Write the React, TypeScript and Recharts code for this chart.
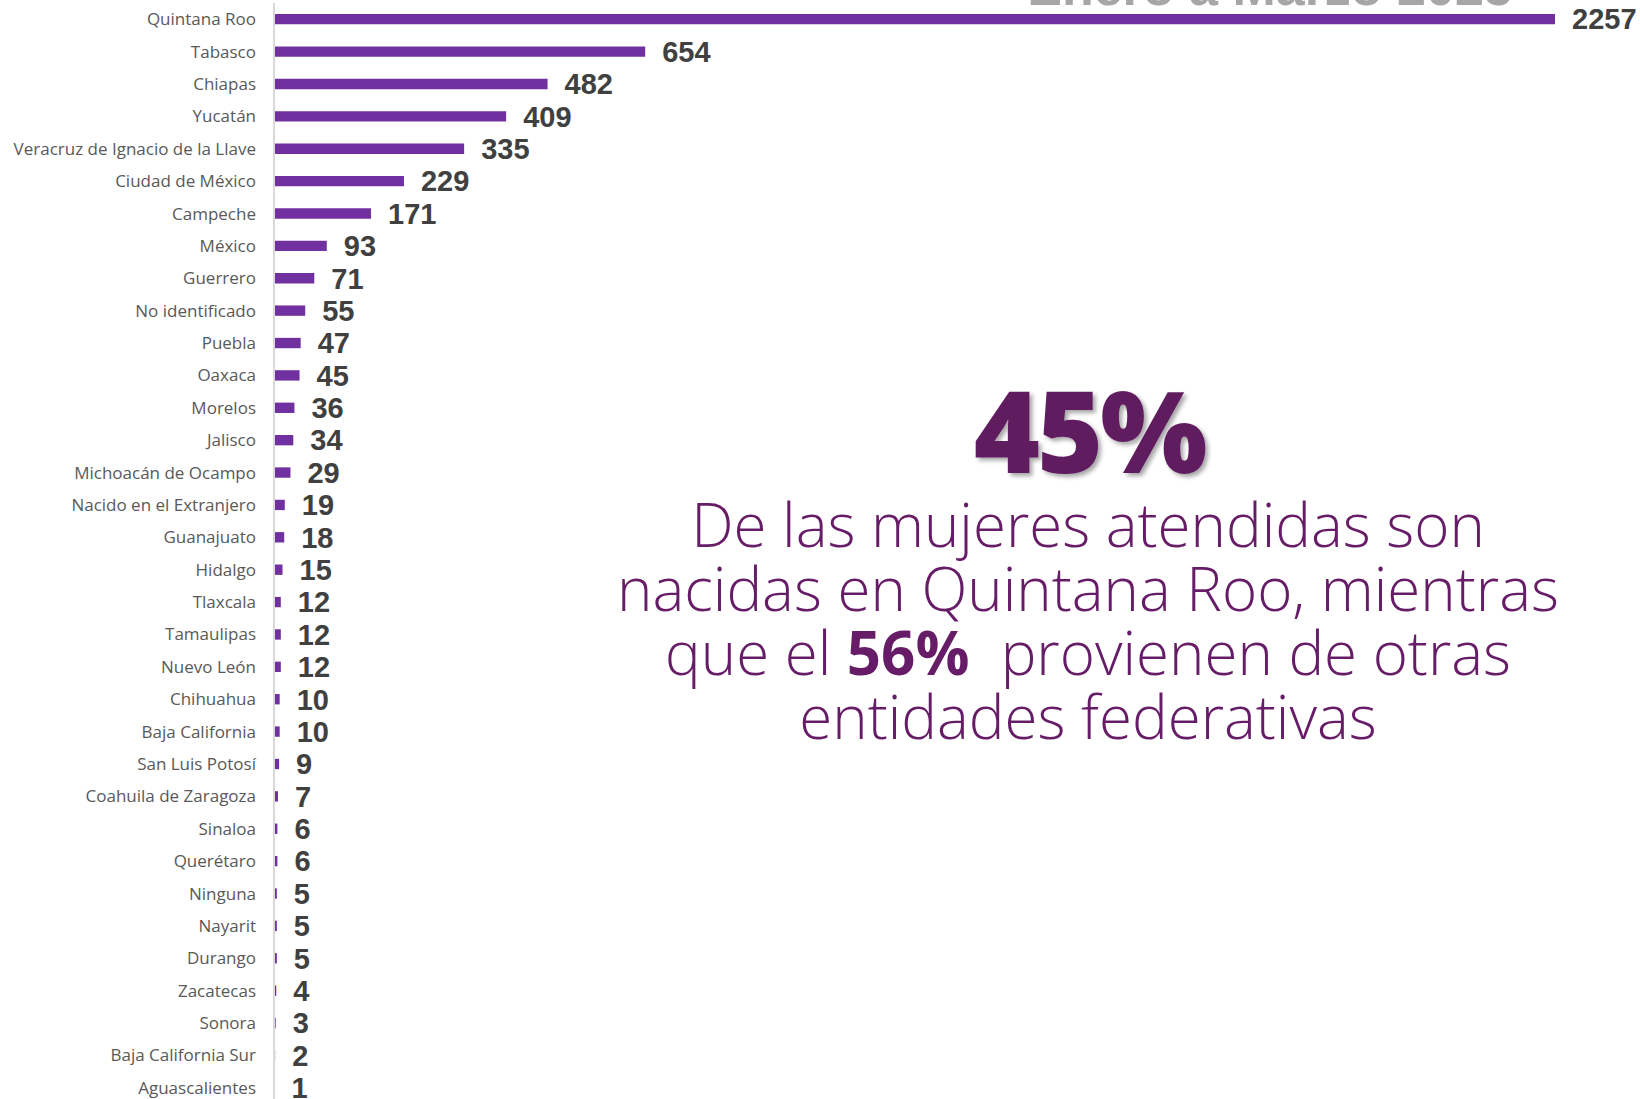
import React from "react";
import { BarChart, Bar, XAxis, YAxis, LabelList } from "recharts";

const estados = [
  "Quintana Roo",
  "Tabasco",
  "Chiapas",
  "Yucatán",
  "Veracruz de Ignacio de la Llave",
  "Ciudad de México",
  "Campeche",
  "México",
  "Guerrero",
  "No identificado",
  "Puebla",
  "Oaxaca",
  "Morelos",
  "Jalisco",
  "Michoacán de Ocampo",
  "Nacido en el Extranjero",
  "Guanajuato",
  "Hidalgo",
  "Tlaxcala",
  "Tamaulipas",
  "Nuevo León",
  "Chihuahua",
  "Baja California",
  "San Luis Potosí",
  "Coahuila de Zaragoza",
  "Sinaloa",
  "Querétaro",
  "Ninguna",
  "Nayarit",
  "Durango",
  "Zacatecas",
  "Sonora",
  "Baja California Sur",
  "Aguascalientes",
];

const mujeres = [
  2257, 654, 482, 409, 335, 229, 171, 93, 71, 55, 47, 45, 36, 34, 29, 19, 18,
  15, 12, 12, 12, 10, 10, 9, 7, 6, 6, 5, 5, 5, 4, 3, 2, 1,
];

const titulo = "Enero a Marzo 2025";
const porcentaje = "45%";
const porcentajeOtras = "56%";

const data = estados.map((estado, i) => ({ estado, valor: mujeres[i] }));

const PURPLE_TEXT = "#661c66";

export default function App() {
  return (
    <div
      style={{
        position: "absolute",
        left: 0,
        top: 0,
        width: 1640,
        height: 1099,
        overflow: "hidden",
        background: "#ffffff",
      }}
    >
      <div style={{ position: "absolute", left: 0, top: 0 }}>
        <BarChart
          width={1640}
          height={1104}
          data={data}
          layout="vertical"
          margin={{ top: 3, right: 85, left: 0, bottom: 0 }}
          barCategoryGap="66%"
        >
          <XAxis type="number" hide domain={[0, 2257]} />
          {/* categorías (entidades) */}
          <YAxis
            type="category"
            dataKey="estado"
            width={274}
            interval={0}
            tickLine={false}
            tickSize={0}
            tickMargin={18}
            axisLine={{ stroke: "#d9d9d9", strokeWidth: 2 }}
            tick={{ fontSize: 17, fill: "#595959", fontFamily: "'Open Sans', sans-serif" }}
          />
          <Bar dataKey="valor" fill="#7030a0" isAnimationActive={false}>
            <LabelList
              dataKey="valor"
              position="right"
              offset={17}
              fill="#404040"
              style={{
                fontSize: 29,
                fontWeight: 700,
                fontFamily: "'Liberation Sans', Arial, sans-serif",
              }}
            />
          </Bar>
        </BarChart>
      </div>

      {/* texto superpuesto */}
      <svg
        width={1640}
        height={1099}
        style={{ position: "absolute", left: 0, top: 0, pointerEvents: "none" }}
      >
        <defs>
          <filter id="sombra" x="-10%" y="-10%" width="130%" height="130%">
            <feDropShadow dx="3" dy="3" stdDeviation="2" floodColor="#000" floodOpacity="0.35" />
          </filter>
        </defs>
        <text
          x={1270}
          y={5}
          textAnchor="middle"
          fontSize={52}
          fontWeight={700}
          fill="#a6a6a6"
          fontFamily="'Liberation Sans', Arial, sans-serif"
        >
          {titulo}
        </text>
        <text
          x={1089}
          y={473}
          textAnchor="middle"
          fontSize={113}
          fontWeight={800}
          letterSpacing={-3}
          fill="#5f1a5f"
          filter="url(#sombra)"
          fontFamily="'Open Sans', sans-serif"
        >
          {porcentaje}
        </text>
        <g
          fontFamily="'Open Sans', sans-serif"
          fontWeight={300}
          fontSize={60}
          fill={PURPLE_TEXT}
          textAnchor="middle"
        >
          <text x={1088} y={547}>De las mujeres atendidas son</text>
          <text x={1088} y={611}>nacidas en Quintana Roo, mientras</text>
          <text x={1088} y={675} xmlSpace="preserve" style={{ whiteSpace: "pre" }}>
            {"que el "}
            <tspan fontWeight={700}>{porcentajeOtras}</tspan>
            {"  provienen de otras"}
          </text>
          <text x={1088} y={739}>entidades federativas</text>
        </g>
      </svg>
    </div>
  );
}
